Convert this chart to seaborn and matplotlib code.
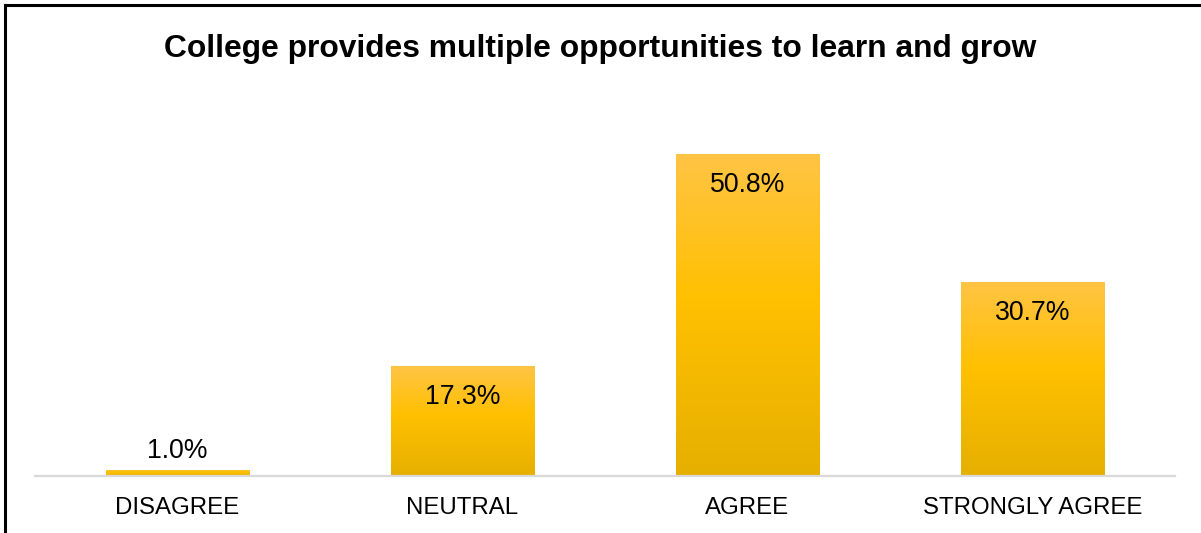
import numpy as np
import pandas as pd
import matplotlib
matplotlib.use("Agg")
import matplotlib.pyplot as plt
from matplotlib.colors import LinearSegmentedColormap
from matplotlib.lines import Line2D
import seaborn as sns

categories = ["DISAGREE", "NEUTRAL", "AGREE", "STRONGLY AGREE"]
percent = [1.0, 17.3, 50.8, 30.7]
labels = ["1.0%", "17.3%", "50.8%", "30.7%"]

sns.set_theme(style="white")
plt.rcParams["font.family"] = ["Liberation Sans", "DejaVu Sans"]

df = pd.DataFrame({"category": categories, "percent": percent})

W, H = 1201, 533
fig = plt.figure(figsize=(W / 100, H / 100), dpi=100)
ax = fig.add_axes([35 / W, 57 / H, 1140 / W, 380 / H])

sns.barplot(data=df, x="category", y="percent", color="#FFC000",
            width=0.505, ax=ax, saturation=1)

# gold gradient: light tint at the top, base in the middle, shade at the bottom
grad = LinearSegmentedColormap.from_list(
    "gold", [(0.0, "#E6B000"), (0.55, "#FFC000"), (1.0, "#FFC445")])
g = np.linspace(0, 1, 256).reshape(-1, 1)
for patch in ax.patches:
    x0, y0 = patch.get_x(), patch.get_y()
    w, h = patch.get_width(), patch.get_height()
    patch.set_facecolor("none")
    patch.set_edgecolor("none")
    im = ax.imshow(g, cmap=grad, origin="lower", aspect="auto",
                   extent=[x0, x0 + w, y0, y0 + h], zorder=2)
    im.set_clip_path(patch)

ax.set_xlim(-0.5, 3.5)
ax.set_ylim(0, 60)
ax.set_xlabel("")
ax.set_ylabel("")
ax.set_yticks([])
for side in ["top", "left", "right"]:
    ax.spines[side].set_visible(False)
ax.spines["bottom"].set_color("#D9D9D9")
ax.spines["bottom"].set_linewidth(1.6)
ax.spines["bottom"].set_zorder(3)
ax.tick_params(axis="x", length=0, pad=15, labelsize=17.3, labelcolor="#000000")

for i, (v, lab) in enumerate(zip(percent, labels)):
    if v < 5:
        ax.annotate(lab, (i, v), xytext=(0, 19), textcoords="offset pixels",
                    ha="center", va="center", fontsize=19.2, color="#000000", zorder=4)
    else:
        ax.annotate(lab, (i, v), xytext=(0, -31), textcoords="offset pixels",
                    ha="center", va="center", fontsize=19.2, color="#000000", zorder=4)

fig.text(0.5, 1 - 49 / H, "College provides multiple opportunities to learn and grow",
         ha="center", va="center", fontsize=22.9, fontweight="bold", color="#000000")

# frame along the left and top edges
fig.add_artist(Line2D([5 / W, 5 / W], [0, 1 - 5 / H], transform=fig.transFigure,
                      color="#000000", linewidth=2.2, solid_capstyle="projecting"))
fig.add_artist(Line2D([5 / W, 1], [1 - 5 / H, 1 - 5 / H], transform=fig.transFigure,
                      color="#000000", linewidth=2.2, solid_capstyle="projecting"))

fig.savefig("out.png", dpi=100, facecolor="white")
